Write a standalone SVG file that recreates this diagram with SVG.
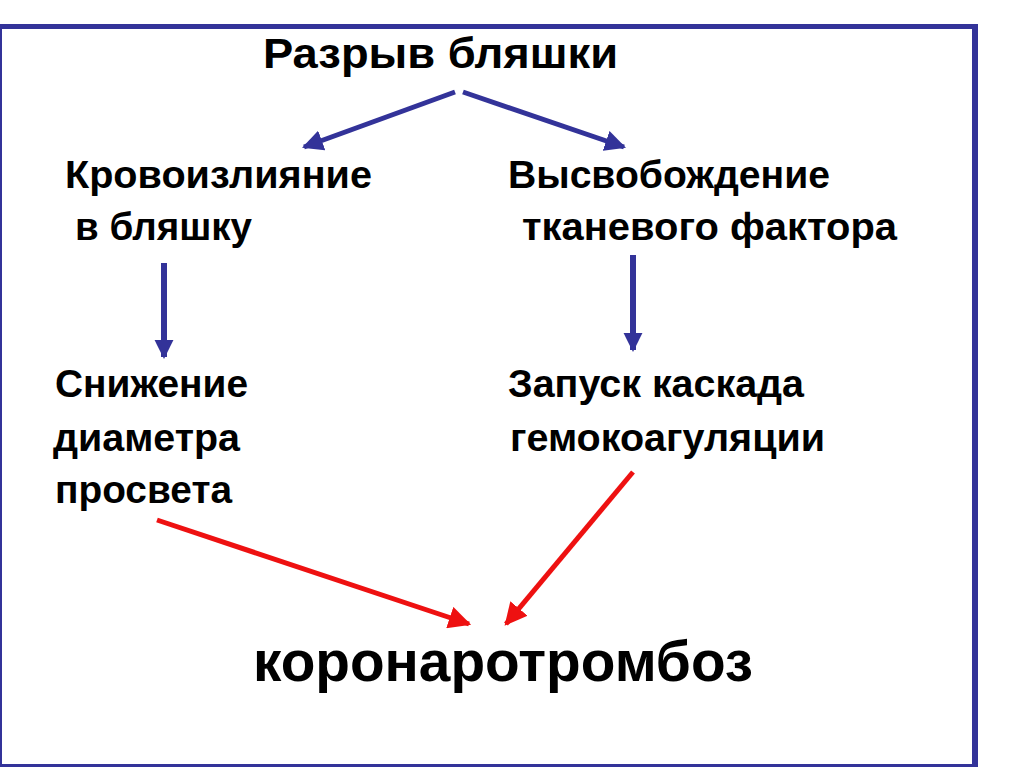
<svg xmlns="http://www.w3.org/2000/svg" width="1024" height="767" viewBox="0 0 1024 767">
<style>
text{font-family:"Liberation Sans",Arial,sans-serif;font-weight:bold;fill:#000}
.t{font-size:38px}
.b{stroke:#333399;stroke-width:5;fill:none}
.r{stroke:#ee1111;stroke-width:5;fill:none}
</style>
<defs>
<marker id="hb" viewBox="0 0 10 10" refX="9" refY="5" markerWidth="4.2" markerHeight="4.2" markerUnits="strokeWidth" orient="auto"><path d="M0,0L10,5L0,10z" fill="#333399"/></marker>
<marker id="hb2" viewBox="0 0 10 10" refX="9" refY="5" markerWidth="3.2" markerHeight="3.2" markerUnits="strokeWidth" orient="auto"><path d="M0,0L10,5L0,10z" fill="#333399"/></marker>
<marker id="hr" viewBox="0 0 10 10" refX="9" refY="5" markerWidth="4.5" markerHeight="4.5" markerUnits="strokeWidth" orient="auto"><path d="M0,0L10,5L0,10z" fill="#ee1111"/></marker>
</defs>
<rect width="1024" height="767" fill="#fff"/>
<g id="frame" fill="#333399">
<rect x="0" y="24" width="978" height="5"/>
<rect x="972" y="24" width="6" height="743"/>
<rect x="0" y="24" width="2" height="743"/>
<rect x="0" y="764" width="978" height="3"/>
</g>
<g id="connectors">
<line class="b" x1="455" y1="92" x2="304" y2="147" marker-end="url(#hb)"/>
<line class="b" x1="463" y1="92" x2="624" y2="147" marker-end="url(#hb)"/>
<line class="b" x1="164" y1="263" x2="164" y2="357" style="stroke-width:6" marker-end="url(#hb2)"/>
<line class="b" x1="633" y1="255" x2="633" y2="350" style="stroke-width:6" marker-end="url(#hb2)"/>
<line class="r" x1="157" y1="520" x2="469" y2="624" marker-end="url(#hr)"/>
<line class="r" x1="633" y1="472" x2="506" y2="624" marker-end="url(#hr)"/>
</g>
<g id="n-rupture"><text x="263" y="68" font-size="43" textLength="355" lengthAdjust="spacingAndGlyphs">Разрыв бляшки</text></g>
<g id="n-hemorrhage"><text class="t" x="65" y="188" textLength="307" lengthAdjust="spacingAndGlyphs">Кровоизлияние</text><text class="t" x="75" y="240" textLength="177" lengthAdjust="spacingAndGlyphs">в бляшку</text></g>
<g id="n-release"><text class="t" x="508" y="188" textLength="322" lengthAdjust="spacingAndGlyphs">Высвобождение</text><text class="t" x="522" y="240" textLength="375" lengthAdjust="spacingAndGlyphs">тканевого фактора</text></g>
<g id="n-lumen"><text class="t" x="55" y="397" textLength="193" lengthAdjust="spacingAndGlyphs">Снижение</text><text class="t" x="53" y="451" textLength="187" lengthAdjust="spacingAndGlyphs">диаметра</text><text class="t" x="55" y="503" textLength="177" lengthAdjust="spacingAndGlyphs">просвета</text></g>
<g id="n-cascade"><text class="t" x="508" y="397" textLength="296" lengthAdjust="spacingAndGlyphs">Запуск каскада</text><text class="t" x="510" y="451" textLength="315" lengthAdjust="spacingAndGlyphs">гемокоагуляции</text></g>
<g id="n-thrombosis"><text x="253" y="681" font-size="58" textLength="500" lengthAdjust="spacingAndGlyphs">коронаротромбоз</text></g>
</svg>
